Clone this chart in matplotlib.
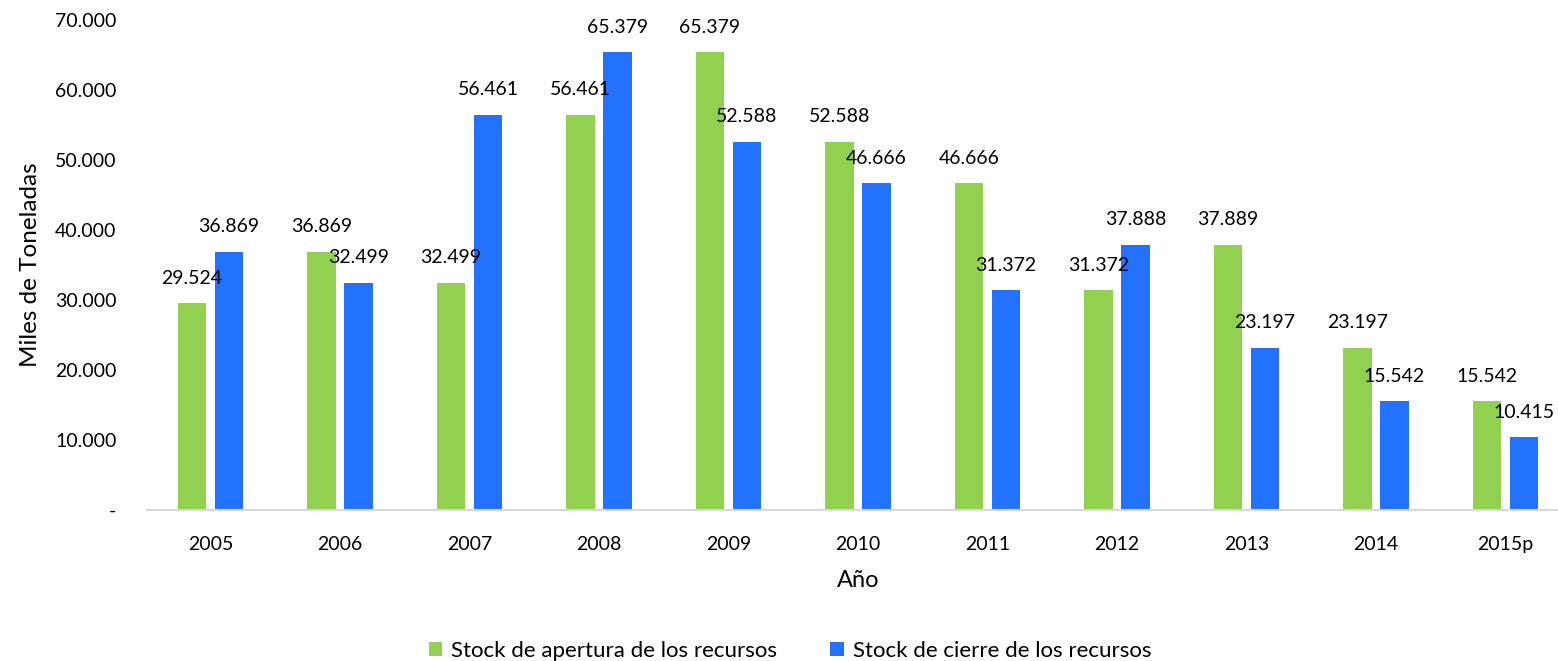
import matplotlib.pyplot as plt
import matplotlib.ticker as mticker
import numpy as np

# data
years = ["2005", "2006", "2007", "2008", "2009", "2010", "2011", "2012", "2013", "2014", "2015p"]
apertura = [29524, 36869, 32499, 56461, 65379, 52588, 46666, 31372, 37889, 23197, 15542]
cierre = [36869, 32499, 56461, 65379, 52588, 46666, 31372, 37888, 23197, 15542, 10415]

plt.rcParams['font.family'] = ['Lato', 'DejaVu Sans']

def miles(v, pos=None):
    if v == 0:
        return "-"
    return f"{v:,.0f}".replace(",", ".")

fig = plt.figure(figsize=(15.58, 6.61), dpi=100)
ax = fig.add_axes([147 / 1558, 1 - 510 / 661, 1423 / 1558, 490 / 661])

x = np.arange(len(years))
w = 0.22
off = 0.143
b1 = ax.bar(x - off, apertura, w, color="#92D050", label="Stock de apertura de los recursos")
b2 = ax.bar(x + off, cierre, w, color="#2372FF", label="Stock de cierre de los recursos")

for bars, vals in ((b1, apertura), (b2, cierre)):
    for bar, v in zip(bars, vals):
        ax.annotate(miles(v), (bar.get_x() + bar.get_width() / 2, v),
                    xytext=(0, 18), textcoords="offset points",
                    ha="center", va="center", fontsize=14)

ax.set_xlim(-0.49, len(years) - 0.5)
ax.set_ylim(0, 70000)
ax.yaxis.set_major_locator(mticker.MultipleLocator(10000))
ax.yaxis.set_major_formatter(mticker.FuncFormatter(miles))
ax.set_xticks(x)
ax.set_xticklabels(years)
ax.tick_params(axis="both", length=0, labelsize=14)
ax.tick_params(axis="y", pad=22)
ax.tick_params(axis="x", pad=19)

for s in ("top", "right", "left"):
    ax.spines[s].set_visible(False)
ax.spines["bottom"].set_color("#D9D9D9")
ax.spines["bottom"].set_linewidth(1.5)

ax.set_ylabel("Miles de Toneladas", fontsize=17.5, labelpad=10)
ax.set_xlabel("Año", fontsize=17, labelpad=12)

fig.legend(loc="center", bbox_to_anchor=(0.507, 0.015), ncol=2, frameon=False,
           fontsize=16, handlelength=0.6, handleheight=0.6, handletextpad=0.4,
           columnspacing=2.4)

fig.savefig("out.png", dpi=100)
